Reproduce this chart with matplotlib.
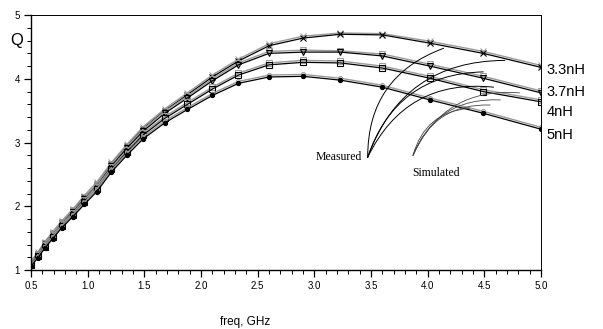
#!/usr/bin/env python3
"""Q factor vs frequency for four spiral inductors, measured and simulated."""

import matplotlib
matplotlib.use("Agg")
import matplotlib.pyplot as plt
from matplotlib.ticker import MultipleLocator

# Data
freq = [0.50, 0.56, 0.62, 0.69, 0.77, 0.87, 0.97, 1.08, 1.21, 1.35, 1.49,
        1.68, 1.88, 2.10, 2.33, 2.60, 2.90, 3.23, 3.60, 4.02, 4.49, 5.00]

meas_33 = [1.12, 1.26, 1.42, 1.57, 1.74, 1.93, 2.14, 2.34, 2.66, 2.95, 3.22,
           3.50, 3.75, 4.03, 4.28, 4.52, 4.64, 4.70, 4.69, 4.56, 4.40, 4.18]
meas_37 = [1.10, 1.24, 1.40, 1.55, 1.72, 1.91, 2.11, 2.31, 2.63, 2.92, 3.18,
           3.46, 3.70, 3.97, 4.22, 4.40, 4.42, 4.42, 4.36, 4.20, 4.01, 3.78]
meas_4 = [1.08, 1.22, 1.37, 1.52, 1.69, 1.87, 2.07, 2.27, 2.58, 2.86, 3.12,
          3.38, 3.60, 3.84, 4.06, 4.22, 4.26, 4.25, 4.17, 4.01, 3.80, 3.64]
meas_5 = [1.06, 1.19, 1.34, 1.49, 1.66, 1.84, 2.03, 2.23, 2.54, 2.81, 3.06,
          3.31, 3.52, 3.74, 3.93, 4.03, 4.04, 3.98, 3.87, 3.67, 3.46, 3.21]

sim_33 = [1.14, 1.28, 1.44, 1.60, 1.77, 1.96, 2.17, 2.38, 2.69, 2.98, 3.25,
          3.53, 3.78, 4.06, 4.31, 4.55, 4.67, 4.72, 4.71, 4.59, 4.43, 4.21]
sim_37 = [1.12, 1.26, 1.42, 1.58, 1.75, 1.94, 2.14, 2.35, 2.66, 2.95, 3.21,
          3.49, 3.73, 4.00, 4.25, 4.43, 4.45, 4.44, 4.39, 4.23, 4.04, 3.81]
sim_4 = [1.10, 1.24, 1.40, 1.55, 1.72, 1.90, 2.10, 2.31, 2.61, 2.89, 3.15,
         3.41, 3.63, 3.87, 4.09, 4.25, 4.29, 4.28, 4.20, 4.04, 3.83, 3.67]
sim_5 = [1.08, 1.21, 1.37, 1.52, 1.69, 1.87, 2.06, 2.27, 2.57, 2.84, 3.09,
         3.34, 3.55, 3.77, 3.96, 4.06, 4.07, 4.01, 3.90, 3.70, 3.49, 3.24]

labels = ["3.3nH", "3.7nH", "4nH", "5nH"]
label_y = [4.14, 3.79, 3.48, 3.12]

# annotation anchors (freq, Q)
measured_pt = (3.47, 2.77)
measured_ends = [(4.14, 4.48), (4.68, 4.29), (4.49, 4.11), (4.58, 3.87)]
simulated_pt = (3.87, 2.80)
simulated_ends = [(4.37, 3.54), (4.55, 3.59), (4.64, 3.67), (4.81, 3.78)]

fig = plt.figure(figsize=(6.03, 3.29), dpi=100)
ax = fig.add_axes([0.0514, 0.179, 0.846, 0.775])

markers = [("x", 4, "none"), ("v", 4, "none"), ("s", 4, "none"), ("o", 3, "k")]
for meas, sim, (m, ms, fc) in zip([meas_33, meas_37, meas_4, meas_5],
                                  [sim_33, sim_37, sim_4, sim_5], markers):
    ax.plot(freq, sim, color="#9a9a9a", linewidth=1.0, marker=m,
            markersize=ms, markerfacecolor="none", markeredgecolor="#9a9a9a",
            markeredgewidth=0.7)
    ax.plot(freq, meas, color="black", linewidth=0.9, marker=m,
            markersize=ms, markerfacecolor=fc, markeredgecolor="black",
            markeredgewidth=0.8)

for end in measured_ends:
    ax.annotate("", xy=end, xytext=measured_pt,
                arrowprops=dict(arrowstyle="-", color="black", lw=0.7,
                                connectionstyle="arc3,rad=-0.35",
                                shrinkA=0, shrinkB=0))
for end in simulated_ends:
    ax.annotate("", xy=end, xytext=simulated_pt,
                arrowprops=dict(arrowstyle="-", color="#444444", lw=0.6,
                                connectionstyle="arc3,rad=-0.35",
                                shrinkA=0, shrinkB=0))

ax.text(measured_pt[0] - 0.05, measured_pt[1], "Measured", ha="right",
        va="center", fontsize=8.5, family="Liberation Serif")
ax.text(simulated_pt[0] + 0.2, simulated_pt[1] - 0.27, "Simulated",
        ha="center", va="center", fontsize=8.5, family="Liberation Serif")

for lab, y in zip(labels, label_y):
    ax.text(5.05, y, lab, ha="left", va="center", fontsize=10.5,
            family="Liberation Sans", clip_on=False)

ax.set_xlim(0.5, 5.0)
ax.set_ylim(1, 5)
ax.xaxis.set_major_locator(MultipleLocator(0.5))
ax.xaxis.set_minor_locator(MultipleLocator(0.1))
ax.yaxis.set_major_locator(MultipleLocator(1))
ax.yaxis.set_minor_locator(MultipleLocator(0.2))
ax.set_xticklabels([f"{v:.1f}" for v in ax.get_xticks()])
ax.set_yticklabels([f"{v:.0f}" for v in ax.get_yticks()])
ax.tick_params(which="major", length=5, width=0.9, labelsize=7, pad=3)
ax.tick_params(which="minor", length=3, width=0.7)
for lab in ax.get_xticklabels() + ax.get_yticklabels():
    lab.set_family("Liberation Sans")
for side in ["top", "right"]:
    ax.spines[side].set_linewidth(0.7)
for side in ["left", "bottom"]:
    ax.spines[side].set_linewidth(1.0)

fig.text(10 / 603, 1 - 40 / 329, "Q", fontsize=12, family="Liberation Sans",
         ha="left", va="center")
fig.text(245 / 603, 1 - 322 / 329, "freq, GHz", fontsize=8.5,
         family="Liberation Sans", ha="center", va="center")

fig.savefig("out.png", dpi=100)
